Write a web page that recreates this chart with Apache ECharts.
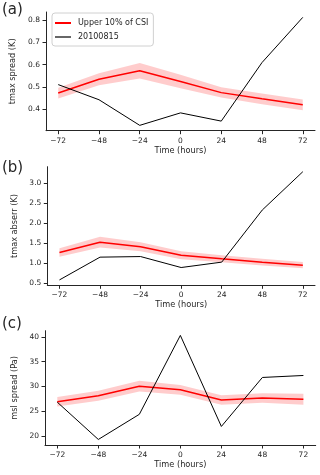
<!DOCTYPE html>
<html>
<head>
<meta charset="utf-8">
<script src="https://cdn.jsdelivr.net/npm/echarts@6/dist/echarts.min.js"></script>
<style>
  html, body { margin: 0; padding: 0; background: #fff; }
  #chart { width: 320px; height: 475px; }
</style>
</head>
<body>
<div id="chart"></div>
<script>
// lead time (hours)
const hours = [-72, -48, -24, 0, 24, 48, 72];

// (a) tmax spread (K)
const spreadMean = [0.472, 0.534, 0.572, 0.524, 0.474, 0.446, 0.419];
const spreadLo   = [0.448, 0.507, 0.537, 0.494, 0.452, 0.422, 0.395];
const spreadHi   = [0.496, 0.561, 0.607, 0.554, 0.498, 0.470, 0.443];
const spreadCase = [0.510, 0.442, 0.327, 0.383, 0.346, 0.609, 0.812];

// (b) tmax abserr (K)
const abserrMean = [1.265, 1.525, 1.41, 1.20, 1.11, 1.025, 0.95];
const abserrLo   = [1.16, 1.39, 1.30, 1.10, 1.02, 0.94, 0.87];
const abserrHi   = [1.37, 1.66, 1.52, 1.30, 1.20, 1.11, 1.03];
const abserrCase = [0.58, 1.15, 1.165, 0.89, 1.025, 2.33, 3.29];

// (c) msl spread (Pa)
const mslMean = [26.9, 28.1, 30.04, 29.3, 27.25, 27.65, 27.4];
const mslLo   = [25.95, 27.1, 28.95, 28.3, 26.3, 26.7, 26.3];
const mslHi   = [27.85, 29.1, 31.15, 30.3, 28.2, 28.6, 28.5];
const mslCase = [26.8, 19.27, 24.35, 40.3, 21.9, 31.8, 32.2];

const xTicks = [-72, -48, -24, 0, 24, 48, 72];
const yTicksA = [0.4, 0.5, 0.6, 0.7, 0.8];
const yTicksB = [0.5, 1.0, 1.5, 2.0, 2.5, 3.0];
const yTicksC = [20, 25, 30, 35, 40];

const meanName = 'Upper 10% of CSI';
const caseName = '20100815';

const ink = '#262626';
const font = 'DejaVu Sans';

const pairs = (ys) => hours.map((h, i) => [h, ys[i]]);

function xAxisFor(idx) {
  return {
    type: 'value', gridIndex: idx, min: -79.2, max: 79.2,
    name: 'Time (hours)', nameLocation: 'middle', nameGap: 16,
    nameTextStyle: { color: ink, fontSize: 8.2, fontFamily: font },
    axisLine: { onZero: false, lineStyle: { color: ink, width: 1 } },
    axisTick: { customValues: xTicks, length: 3.5, lineStyle: { color: ink } },
    axisLabel: {
      customValues: xTicks, margin: 6, color: ink, fontSize: 7.5, fontFamily: font,
      formatter: v => (v < 0 ? '\u2212' + Math.abs(v) : String(v))
    },
    splitLine: { show: false }
  };
}

function yAxisFor(idx, name, min, max, ticks, gap) {
  return {
    type: 'value', gridIndex: idx, min: min, max: max,
    name: name, nameLocation: 'middle', nameGap: gap,
    nameTextStyle: { color: ink, fontSize: 8.2, fontFamily: font },
    axisLine: { show: true, onZero: false, lineStyle: { color: ink, width: 1 } },
    axisTick: { show: true, customValues: ticks, length: 3.5, lineStyle: { color: ink } },
    axisLabel: {
      customValues: ticks, margin: 6, color: ink, fontSize: 7.5, fontFamily: font,
      formatter: v => (max < 5 ? v.toFixed(1) : String(v))
    },
    splitLine: { show: false }
  };
}

// shaded band between lo and hi, drawn as one polygon through the axes' scales
function bandSeries(idx, lo, hi) {
  return {
    type: 'custom', xAxisIndex: idx, yAxisIndex: idx, silent: true, z: 1,
    data: hours.map((h, i) => [h, lo[i], hi[i]]),
    encode: { x: 0, y: [1, 2] },
    renderItem: (params, api) => {
      if (params.dataIndex !== 0) return null;
      const top = hours.map((h, i) => api.coord([h, hi[i]]));
      const bottom = hours.map((h, i) => api.coord([h, lo[i]])).reverse();
      return {
        type: 'polygon',
        shape: { points: top.concat(bottom) },
        style: { fill: 'rgba(255,0,0,0.2)' }
      };
    }
  };
}

function panelSeries(idx, mean, lo, hi, cs) {
  return [
    bandSeries(idx, lo, hi),
    {
      name: meanName, type: 'line', xAxisIndex: idx, yAxisIndex: idx, z: 2,
      data: pairs(mean), symbol: 'none', color: '#ff0000',
      lineStyle: { color: '#ff0000', width: 1.5 }
    },
    {
      name: caseName, type: 'line', xAxisIndex: idx, yAxisIndex: idx, z: 3,
      data: pairs(cs), symbol: 'none', color: '#000000',
      lineStyle: { color: '#000000', width: 1 }
    }
  ];
}

const chart = echarts.init(document.getElementById('chart'), null, { renderer: 'canvas' });

const option = {
  backgroundColor: '#ffffff',
  animation: false,
  textStyle: { fontFamily: font },
  grid: [
    { left: 46, right: 5, top: 12, height: 118.7 },
    { left: 47.3, right: 5, top: 166.7, height: 118.6 },
    { left: 45, right: 4.3, top: 330.7, height: 114.3 }
  ],
  xAxis: [xAxisFor(0), xAxisFor(1), xAxisFor(2)],
  yAxis: [
    yAxisFor(0, 'tmax spread (K)', 0.303, 0.836, yTicksA, 20),
    yAxisFor(1, 'tmax abserr (K)', 0.445, 3.415, yTicksB, 22),
    yAxisFor(2, 'msl spread (Pa)', 18.15, 41.25, yTicksC, 19)
  ],
  legend: {
    data: [
      { name: meanName, icon: 'path://M0,0H16V2H0Z' },
      { name: caseName, icon: 'path://M0,0H16V1.2H0Z' }
    ],
    orient: 'vertical', left: 52, top: 13,
    itemWidth: 16, itemHeight: 2, itemGap: 6,
    padding: [6, 5, 5, 3],
    borderColor: '#d0d0d0', borderWidth: 1, borderRadius: 3,
    backgroundColor: 'rgba(255,255,255,0.8)',
    textStyle: { color: ink, fontSize: 8, fontFamily: font, padding: [0, 0, 0, 2] },
    selectedMode: false
  },
  graphic: [
    { type: 'text', left: 2, top: 3, style: { text: '(a)', font: '15px DejaVu Sans', fill: ink } },
    { type: 'text', left: 2, top: 161, style: { text: '(b)', font: '15px DejaVu Sans', fill: ink } },
    { type: 'text', left: 2, top: 317, style: { text: '(c)', font: '15px DejaVu Sans', fill: ink } }
  ],
  series: [
    ...panelSeries(0, spreadMean, spreadLo, spreadHi, spreadCase),
    ...panelSeries(1, abserrMean, abserrLo, abserrHi, abserrCase),
    ...panelSeries(2, mslMean, mslLo, mslHi, mslCase)
  ]
};

chart.setOption(option);
</script>
</body>
</html>
